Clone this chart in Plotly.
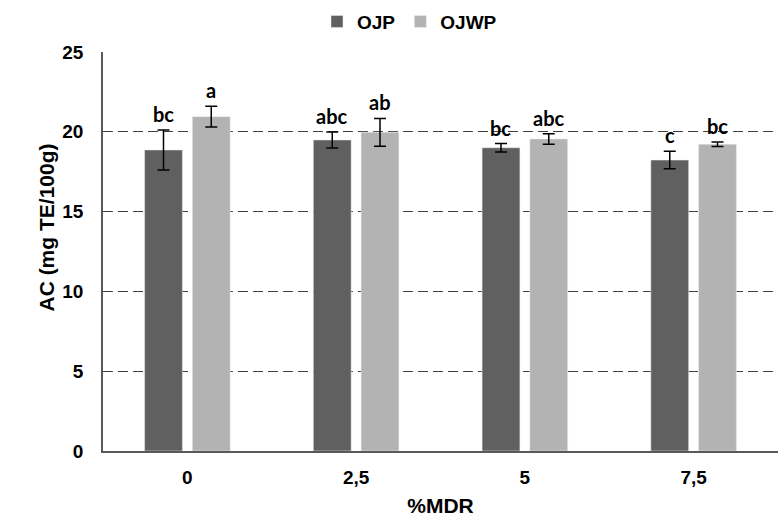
import plotly.graph_objects as go

categories = ["0", "2,5", "5", "7,5"]
ojp_values = [18.86, 19.49, 19.00, 18.23]
ojp_err = [1.25, 0.50, 0.26, 0.55]
ojp_letters = ["bc", "abc", "bc", "c"]
ojwp_values = [20.95, 19.97, 19.55, 19.22]
ojwp_err = [0.65, 0.87, 0.33, 0.14]
ojwp_letters = ["a", "ab", "abc", "bc"]
y_ticks = [0, 5, 10, 15, 20, 25]

fig = go.Figure()
err_style = dict(type="data", thickness=1.5, width=6, color="#000000")
fig.add_trace(go.Bar(
    name="OJP", x=categories, y=ojp_values, marker_color="#606060",
    error_y=dict(array=ojp_err, **err_style),
))
fig.add_trace(go.Bar(
    name="OJWP", x=categories, y=ojwp_values, marker_color="#b3b3b3",
    error_y=dict(array=ojwp_err, **err_style),
))

annotations = []
for i, c in enumerate(categories):
    for vals, errs, letters, off in ((ojp_values, ojp_err, ojp_letters, 0), (ojwp_values, ojwp_err, ojwp_letters, 1)):
        annotations.append(dict(
            x=i, y=vals[i] + errs[i], text="<b>" + letters[i] + "</b>",
            showarrow=False, yanchor="bottom", yshift=2,
            xshift=-24 if off == 0 else 24,
            font=dict(family="Lato, Open Sans, sans-serif", size=20, color="#000000"),
        ))
# y axis title (placed as rotated text, slightly above plot centre as in reference)
annotations.append(dict(
    xref="paper", yref="paper", x=-0.083, y=0.56, text="<b>AC (mg TE/100g)</b>",
    textangle=-90, showarrow=False, xanchor="center", yanchor="middle",
    font=dict(family="Liberation Sans, Arial, sans-serif", size=21, color="#000000"),
))

fig.update_layout(
    width=780, height=519,
    margin=dict(l=103, r=2, t=52, b=68),
    plot_bgcolor="white", paper_bgcolor="white",
    barmode="group", bargap=0.434, bargroupgap=0.208,
    font=dict(family="Liberation Sans, Arial, sans-serif", color="#000000"),
    legend=dict(orientation="h", x=0.525, xanchor="center", xref="container",
                y=0.995, yanchor="top", yref="container",
                font=dict(size=19, family="Liberation Sans, Arial", weight="bold"),
                traceorder="normal", itemwidth=30),
    annotations=annotations,
    showlegend=True,
)
fig.update_xaxes(
    type="category",
    showline=True, linecolor="#595959", linewidth=1.5,
    tickfont=dict(size=19, weight="bold"), ticks="", ticklabelstandoff=8,
    title=dict(text="<b>%MDR</b>", font=dict(size=21), standoff=12),
)
fig.update_yaxes(
    range=[0, 25], tickvals=y_ticks, showgrid=True, gridcolor="#404040",
    griddash="10px,5px", gridwidth=1.2, showline=True, linecolor="#595959", linewidth=1.5,
    tickfont=dict(size=19, weight="bold"), ticks="", ticklabelstandoff=14, zeroline=False,
)
fig.write_html("out.html")
